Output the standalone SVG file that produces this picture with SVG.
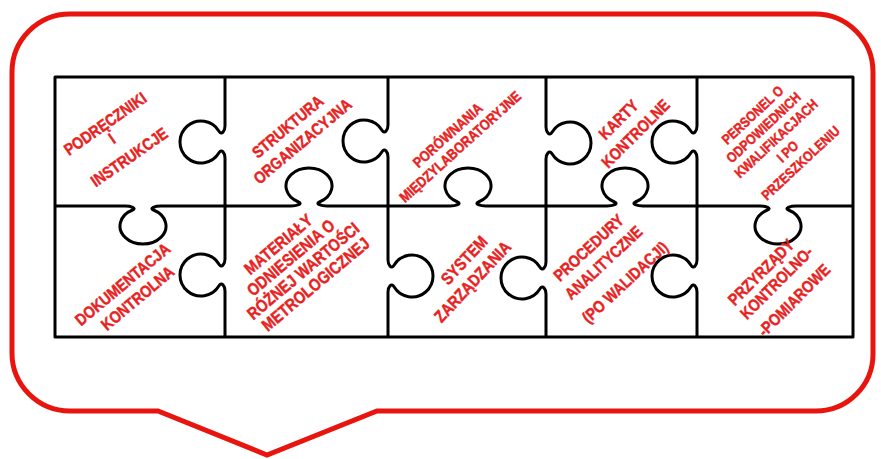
<svg xmlns="http://www.w3.org/2000/svg" width="881" height="459" viewBox="0 0 881 459">
<style>
.bubble{fill:#fff;stroke:#e8150f;stroke-width:5;stroke-linejoin:miter}
.edge{fill:none;stroke:#000;stroke-width:3;stroke-linejoin:round}
.lbl{fill:#e8231f;stroke:#e8231f;stroke-width:0.45;font-family:"Liberation Sans",Arial,sans-serif;font-weight:bold;text-anchor:middle}
</style>
<rect width="881" height="459" fill="#fff"/>
<g id="bubble">
<path class="bubble" d="M70,14 L815,14 A58 58 0 0 1 873,72 L873,354 A57 57 0 0 1 816,411 L377,411 L267,455 L158,411 L70,411 A58 58 0 0 1 12,353 L12,72 A58 58 0 0 1 70,14 Z"/>
</g>
<g id="puzzle-edges">
<rect class="edge" x="55" y="77" width="798" height="260"/>
<path class="edge" d="M225,77 L225,126 C225,131 221.6,135.5 219,131.2 A21 21 0 1 0 219,152.8 C221.6,148.5 225,153 225,158 L225,259 C225,264 221.6,268.5 219,264.2 A21 21 0 1 0 219,285.8 C221.6,281.5 225,286 225,291 L225,337"/>
<path class="edge" d="M388,77 L388,125 C388,130 384.6,134.5 382,130.2 A21 21 0 1 0 382,151.8 C384.6,147.5 388,152 388,157 L388,260 C388,265 391.4,269.5 394,265.2 A21 21 0 1 1 394,286.8 C391.4,282.5 388,287 388,292 L388,337"/>
<path class="edge" d="M546,77 L546,127 C546,132 549.4,136.5 552,132.2 A21 21 0 1 1 552,153.8 C549.4,149.5 546,154 546,159 L546,262 C546,267 542.6,271.5 540,267.2 A21 21 0 1 0 540,288.8 C542.6,284.5 546,289 546,294 L546,337"/>
<path class="edge" d="M697,77 L697,126 C697,131 693.6,135.5 691,131.2 A21 21 0 1 0 691,152.8 C693.6,148.5 697,153 697,158 L697,260 C697,265 693.6,269.5 691,265.2 A21 21 0 1 0 691,286.8 C693.6,282.5 697,287 697,292 L697,337"/>
<path class="edge" d="M55,206 L125,206 C131,206 137.1,208.2 132.5,210 A23 18 0 1 0 153.5,210 C148.9,208.2 155,206 161,206 L291,206 C297,206 303.1,203.8 298.5,202 A23 18 0 1 1 319.5,202 C314.9,203.8 321,206 327,206 L450,206 C456,206 462.1,203.8 457.5,202 A23 18 0 1 1 478.5,202 C473.9,203.8 480,206 486,206 L607,206 C613,206 619.1,203.8 614.5,202 A23 18 0 1 1 635.5,202 C630.9,203.8 637,206 643,206 L760,206 C766,206 772.1,208.2 767.5,210 A23 18 0 1 0 788.5,210 C783.9,208.2 790,206 796,206 L853,206"/>
</g>
<g id="piece-podreczniki" class="lbl" font-size="16.5">
<text transform="translate(108.5,128.4) rotate(-35) scale(0.85,1)">PODRĘCZNIKI</text>
<text transform="translate(115.2,143.2) rotate(-35) scale(0.85,1)">I</text>
<text transform="translate(132.5,161.9) rotate(-35) scale(0.85,1)">INSTRUKCJE</text>
</g>
<g id="piece-struktura" class="lbl" font-size="16.5">
<text transform="translate(291.3,131.1) rotate(-40) scale(0.85,1)">STRUKTURA</text>
<text transform="translate(306.3,145.6) rotate(-40) scale(0.85,1)">ORGANIZACYJNA</text>
</g>
<g id="piece-porownania" class="lbl" font-size="14.7">
<text transform="translate(451.1,139) rotate(-42) scale(0.85,1)">PORÓWNANIA</text>
<text transform="translate(463.6,150.5) rotate(-42) scale(0.85,1)">MIĘDZYLABORATORYJNE</text>
</g>
<g id="piece-karty" class="lbl" font-size="16.5">
<text transform="translate(622.6,123.6) rotate(-45) scale(0.85,1)">KARTY</text>
<text transform="translate(639.6,137.6) rotate(-45) scale(0.85,1)">KONTROLNE</text>
</g>
<g id="piece-personel" class="lbl" font-size="14.1">
<text transform="translate(755.9,118.6) rotate(-43) scale(0.85,1)">PERSONEL O</text>
<text transform="translate(766.9,131.1) rotate(-43) scale(0.85,1)">ODPOWIEDNICH</text>
<text transform="translate(779.4,142.1) rotate(-43) scale(0.85,1)">KWALIFIKACJACH</text>
<text transform="translate(790.9,155.1) rotate(-43) scale(0.85,1)">I PO</text>
<text transform="translate(803.9,166.6) rotate(-43) scale(0.85,1)">PRZESZKOLENIU</text>
</g>
<g id="piece-dokumentacja" class="lbl" font-size="16.5">
<text transform="translate(126.3,288.6) rotate(-40) scale(0.85,1)">DOKUMENTACJA</text>
<text transform="translate(141.3,302.6) rotate(-40) scale(0.85,1)">KONTROLNA</text>
</g>
<g id="piece-materialy" class="lbl" font-size="17">
<text transform="translate(282.1,248.8) rotate(-40) scale(0.85,1)">MATERIAŁY</text>
<text transform="translate(294.5,262.1) rotate(-40) scale(0.85,1)">ODNIESIENIA O</text>
<text transform="translate(306.9,275.4) rotate(-40) scale(0.85,1)">RÓŻNEJ WARTOŚCI</text>
<text transform="translate(319.3,288.6) rotate(-40) scale(0.85,1)">METROLOGICZNEJ</text>
</g>
<g id="piece-system" class="lbl" font-size="17">
<text transform="translate(468.4,264.2) rotate(-47) scale(0.85,1)">SYSTEM</text>
<text transform="translate(476.9,285.7) rotate(-47) scale(0.85,1)">ZARZĄDZANIA</text>
</g>
<g id="piece-procedury" class="lbl" font-size="16.5">
<text transform="translate(592.5,251.9) rotate(-43) scale(0.85,1)">PROCEDURY</text>
<text transform="translate(607.5,266.9) rotate(-43) scale(0.85,1)">ANALITYCZNE</text>
<text transform="translate(629,286.4) rotate(-43) scale(0.85,1)">(PO WALIDACJI)</text>
</g>
<g id="piece-przyrzady" class="lbl" font-size="16.5">
<text transform="translate(765.1,276.2) rotate(-45) scale(0.85,1)">PRZYRZĄDY</text>
<text transform="translate(780.6,286.7) rotate(-45) scale(0.85,1)">KONTROLNO-</text>
<text transform="translate(798.1,304.2) rotate(-45) scale(0.85,1)">-POMIAROWE</text>
</g>
</svg>
